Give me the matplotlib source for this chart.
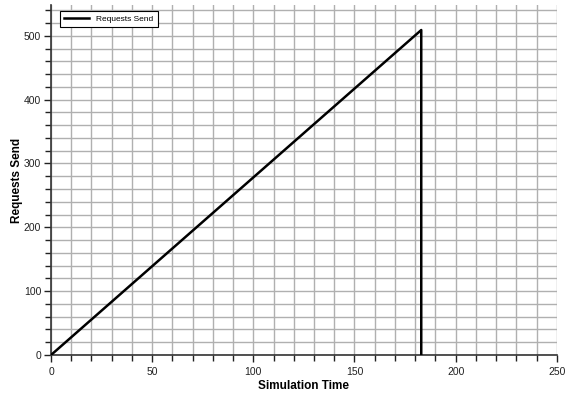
import matplotlib
matplotlib.use("Agg")
import matplotlib.pyplot as plt
from matplotlib.ticker import MultipleLocator

plt.rcParams['font.family'] = ['Liberation Sans', 'DejaVu Sans']

sim_time = [0, 183, 183]
requests_send = [0, 509, 0]
series_label = "Requests Send"
x_label = "Simulation Time"
y_label = "Requests Send"

fig = plt.figure(figsize=(5.67, 3.94), dpi=100)
ax = fig.add_axes([0.09, 0.099, 0.892, 0.888])

ax.plot(sim_time, requests_send, color='black', lw=1.8, label=series_label, zorder=3)

ax.set_xlim(0, 250)
ax.set_ylim(0, 548)
ax.xaxis.set_major_locator(MultipleLocator(50))
ax.xaxis.set_minor_locator(MultipleLocator(10))
ax.yaxis.set_major_locator(MultipleLocator(100))
ax.yaxis.set_minor_locator(MultipleLocator(20))
ax.grid(which='both', color='#b0b0b0', lw=1.0, zorder=0)
ax.set_axisbelow(True)

for s in ['top', 'right']:
    ax.spines[s].set_visible(False)
for s in ['left', 'bottom']:
    ax.spines[s].set_linewidth(1.2)
    ax.spines[s].set_color('#333333')

ax.tick_params(which='major', length=5, width=1, labelsize=7.5, colors='#222222', pad=2)
ax.tick_params(which='minor', length=4, width=1, colors='#222222')
ax.tick_params(axis='x', pad=4)

ax.set_xlabel(x_label, fontsize=8.5, fontweight='bold', labelpad=2)
ax.set_ylabel(y_label, fontsize=8.5, fontweight='bold')
ax.yaxis.set_label_coords(-0.056, 0.5)

leg = ax.legend(loc='upper left', fontsize=6, frameon=True, fancybox=False,
                edgecolor='black', framealpha=1, borderpad=0.5,
                handlelength=3, bbox_to_anchor=(0.01, 0.995))
leg.get_frame().set_linewidth(0.8)

fig.savefig("out.png", dpi=100)
